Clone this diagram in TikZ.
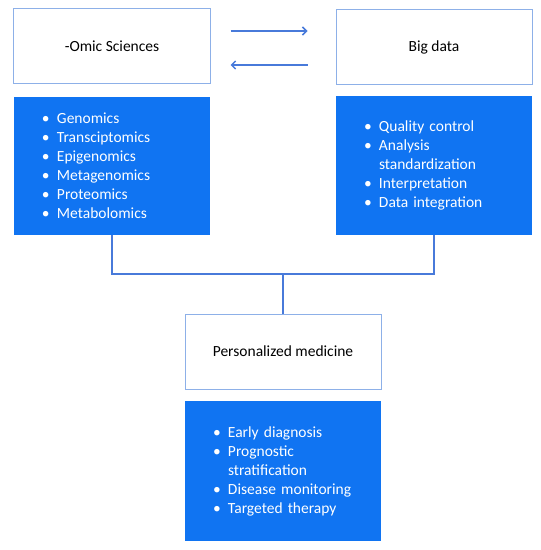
\documentclass[tikz,border=0pt]{standalone}
\usepackage{fontspec}
\setmainfont{Carlito}
\usetikzlibrary{arrows.meta}

\definecolor{listblue}{RGB}{16,116,242}
\definecolor{edgeblue}{RGB}{141,176,232}
\definecolor{linkblue}{RGB}{72,122,218}
\newcommand{\bul}{\makebox[15bp][l]{\textbullet}}
\newcommand{\hang}{\hspace*{15bp}}

\begin{document}
\begin{tikzpicture}[x=1bp,y=-1bp,
  every node/.style={font=\fontsize{15.5bp}{19bp}\selectfont},
  head/.style={draw=edgeblue,line width=1bp,fill=white,minimum width=196bp,minimum height=75bp},
  items/.style={fill=listblue,text=white,text width=140bp,inner xsep=28bp,align=left,minimum width=196bp,minimum height=139bp},
  link/.style={draw=linkblue,line width=1.5bp}]
\useasboundingbox (0,0) rectangle (541,550);

% title boxes
\node[head] (omic) at (112,46.5) {-Omic Sciences};
\node[head] (big)  at (434,47)   {Big data};
\node[head] (med)  at (283,351.5) {Personalized medicine};

% lists
\node[items,minimum height=138bp] (omiclist) at (112,166) {\bul Genomics\\ \bul Transciptomics\\ \bul Epigenomics\\ \bul Metagenomics\\ \bul Proteomics\\ \bul Metabolomics};
\node[items] (biglist) at (434,165.5) {\bul Quality control\\ \bul Analysis\\ \hang standardization\\ \bul Interpretation\\ \bul Data integration};
\node[items,minimum height=140bp] (medlist) at (283,471) {\bul Early diagnosis\\ \bul Prognostic\\ \hang stratification\\ \bul Disease monitoring\\ \bul Targeted therapy};

% arrows between the title boxes
\draw[link,-{Straight Barb[length=4bp,width=8bp]}] ([xshift=20bp,yshift=15.5bp]omic.east) -- ([xshift=-28bp,yshift=16bp]big.west);
\draw[link,-{Straight Barb[length=4bp,width=8bp]}] ([xshift=-28bp,yshift=-18bp]big.west) -- ([xshift=20bp,yshift=-18.5bp]omic.east);

% joining lines
\coordinate (join) at (283,274);
\draw[link] (omiclist.south) |- (join) -| (biglist.south);
\draw[link] (join) -- (med.north);
\end{tikzpicture}
\end{document}
